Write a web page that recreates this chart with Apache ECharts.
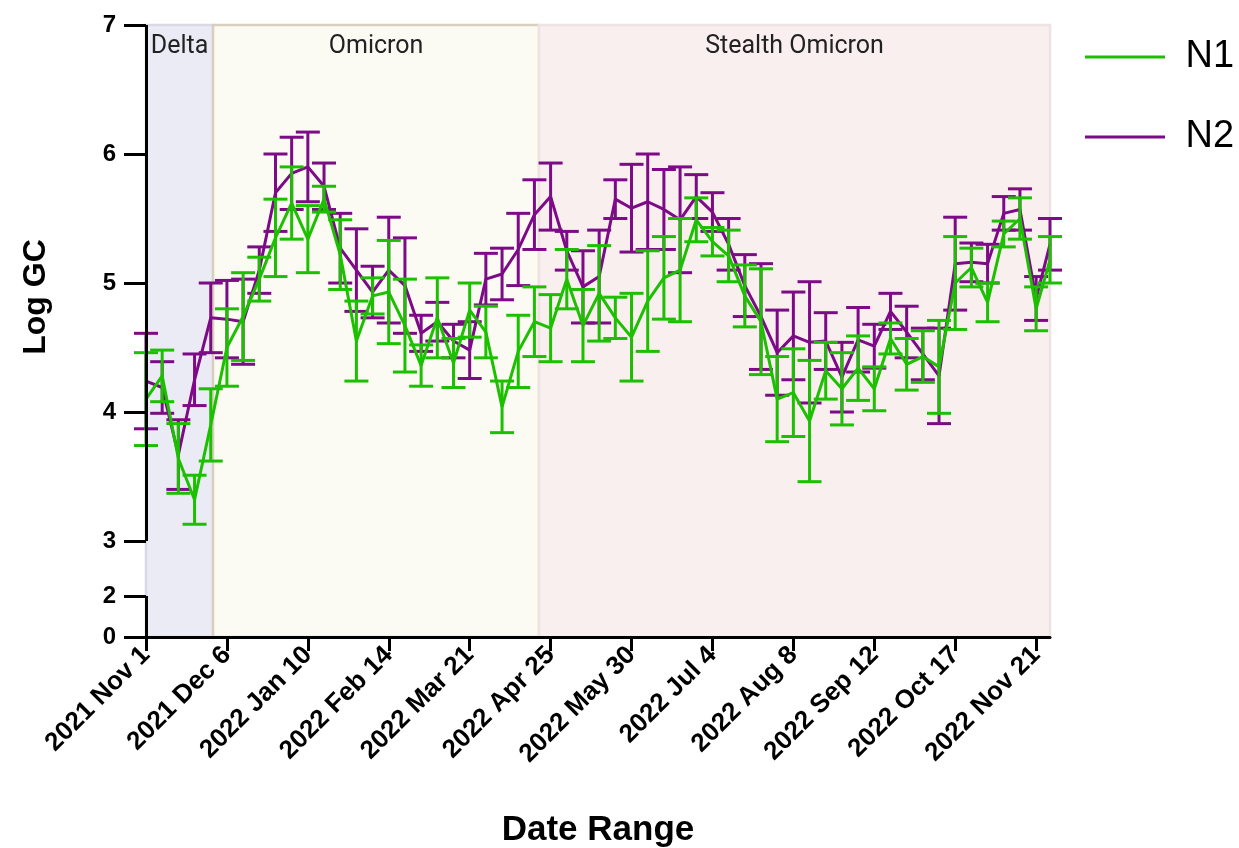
<!DOCTYPE html>
<html><head><meta charset="utf-8">
<script src="https://cdn.jsdelivr.net/npm/echarts@6/dist/echarts.min.js"></script>
<style>html,body{margin:0;padding:0;background:#fff}#c{width:1239px;height:848px}</style>
</head><body><div id="c"></div>
<script>
// ---------- data ----------
const dates = ['2021-11-01','2021-11-08','2021-11-15','2021-11-22','2021-11-29','2021-12-06','2021-12-13','2021-12-20','2021-12-27',
'2022-01-03','2022-01-10','2022-01-17','2022-01-24','2022-01-31','2022-02-07','2022-02-14','2022-02-21','2022-02-28',
'2022-03-07','2022-03-14','2022-03-21','2022-03-28','2022-04-04','2022-04-11','2022-04-18','2022-04-25','2022-05-02',
'2022-05-09','2022-05-16','2022-05-23','2022-05-30','2022-06-06','2022-06-13','2022-06-20','2022-06-27','2022-07-04',
'2022-07-11','2022-07-18','2022-07-25','2022-08-01','2022-08-08','2022-08-15','2022-08-22','2022-08-29','2022-09-05',
'2022-09-12','2022-09-19','2022-09-26','2022-10-03','2022-10-10','2022-10-17','2022-10-24','2022-10-31','2022-11-07',
'2022-11-14','2022-11-21','2022-11-27'];
const n1Mean = [4.10,4.28,3.64,3.32,3.90,4.50,4.74,5.03,5.35,5.62,5.34,5.65,5.22,4.55,4.90,4.93,4.67,4.36,4.73,4.38,
4.79,4.62,4.04,4.47,4.70,4.65,5.03,4.67,4.92,4.73,4.58,4.86,5.04,5.10,5.49,5.32,5.21,4.90,4.70,4.10,
4.15,3.93,4.32,4.18,4.34,4.18,4.57,4.37,4.43,4.35,5.00,5.12,4.85,5.38,5.50,4.80,5.18];
const n1Err = [0.36,0.20,0.27,0.19,0.28,0.30,0.34,0.17,0.30,0.28,0.26,0.10,0.27,0.31,0.14,0.40,0.36,0.16,0.31,0.19,
0.21,0.20,0.20,0.28,0.27,0.26,0.23,0.28,0.37,0.16,0.34,0.39,0.32,0.40,0.17,0.11,0.20,0.24,0.41,0.33,
0.34,0.47,0.22,0.28,0.25,0.17,0.12,0.20,0.20,0.36,0.36,0.15,0.15,0.10,0.16,0.17,0.18];
const n2Mean = [4.24,4.19,3.67,4.25,4.73,4.72,4.70,5.10,5.70,5.85,5.90,5.75,5.27,5.10,4.93,5.10,4.98,4.61,4.70,4.55,
4.48,5.03,5.07,5.26,5.53,5.67,5.25,4.97,5.05,5.65,5.58,5.63,5.57,5.49,5.67,5.55,5.30,4.98,4.74,4.46,
4.59,4.54,4.55,4.27,4.56,4.51,4.78,4.62,4.45,4.28,5.15,5.16,5.15,5.54,5.57,4.88,5.30];
const n2Err = [0.37,0.20,0.27,0.20,0.27,0.30,0.33,0.18,0.30,0.28,0.27,0.18,0.27,0.32,0.20,0.41,0.37,0.14,0.15,0.13,
0.22,0.20,0.20,0.28,0.27,0.26,0.15,0.28,0.36,0.15,0.34,0.37,0.31,0.41,0.17,0.15,0.20,0.24,0.41,0.33,
0.34,0.47,0.22,0.27,0.25,0.17,0.14,0.20,0.20,0.37,0.36,0.15,0.15,0.13,0.16,0.17,0.20];
const xTickDates = ['2021-11-01','2021-12-06','2022-01-10','2022-02-14','2022-03-21','2022-04-25','2022-05-30',
'2022-07-04','2022-08-08','2022-09-12','2022-10-17','2022-11-21'];
const yTickValues = [0,2,3,4,5,6,7];
const bandNames = ['Delta','Omicron','Stealth Omicron'];
const bandStarts = ['2021-11-01','2021-11-30','2022-04-20'];
const bandEnds = ['2021-11-30','2022-04-20','2022-11-27'];
const seriesNames = ['N1','N2'];

// ---------- helpers ----------
const MONTHS = ['Jan','Feb','Mar','Apr','May','Jun','Jul','Aug','Sep','Oct','Nov','Dec'];
const day0 = Date.UTC(2021,10,1);
function toDay(s){ const p=s.split('-').map(Number); return (Date.UTC(p[0],p[1]-1,p[2])-day0)/86400000; }
function dayLabel(v){ const d=new Date(day0+Math.round(v)*86400000); return d.getUTCFullYear()+' '+MONTHS[d.getUTCMonth()]+' '+d.getUTCDate(); }
// segmented y axis: 3..7 linear; 2..3 and 0..2 compressed
const DISP2 = 2.574, DISP0 = 2.256;
function yDisp(v){ if(v>=3) return v; if(v>=2) return DISP2+(v-2)*(3-DISP2); return DISP0+v/2*(DISP2-DISP0); }
const yTickDisp = yTickValues.map(yDisp);
function yLabel(d){ let best=0,bd=1e9; yTickDisp.forEach((t,i)=>{const e=Math.abs(t-d); if(e<bd){bd=e;best=i;}}); return String(yTickValues[best]); }

const days = dates.map(toDay);
const xMax = toDay(bandEnds[bandEnds.length-1]);
const GREEN = '#1CC000', PURPLE = '#7D0A86';
const FONT = 'Liberation Sans';

function errSeries(name, means, errs, color, z){
  return {
    type:'custom', name:name, z:z, silent:true,
    data: days.map((d,i)=>[d, yDisp(means[i]-errs[i]), yDisp(means[i]+errs[i])]),
    encode:{x:0,y:[1,2]},
    renderItem:function(params, api){
      const x=api.value(0);
      const lo=api.coord([x,api.value(1)]), hi=api.coord([x,api.value(2)]);
      const hw=12, st={stroke:color,lineWidth:3,fill:null};
      return {type:'group',children:[
        {type:'line',shape:{x1:lo[0],y1:lo[1],x2:hi[0],y2:hi[1]},style:st},
        {type:'line',shape:{x1:lo[0]-hw,y1:lo[1],x2:lo[0]+hw,y2:lo[1]},style:st},
        {type:'line',shape:{x1:hi[0]-hw,y1:hi[1],x2:hi[0]+hw,y2:hi[1]},style:st}
      ]};
    }
  };
}

const bandColors = ['#EBEBF6','#FBFBF3','#F9EFEF'];
const bandBorders = ['#DADAE4','#D9CFBE','#EFE2E2'];

const chart = echarts.init(document.getElementById('c'), null, {renderer:'canvas'});
chart.setOption({
  animation:false,
  backgroundColor:'#fff',
  grid:{left:146,right:189,top:25,bottom:211,containLabel:false,outerBoundsMode:'none'},
  legend:{
    data:seriesNames, orient:'vertical', left:1085, top:37, padding:0,
    itemWidth:81, itemHeight:3, itemGap:40,
    icon:'path://M0,0 L80,0 L80,3 L0,3 Z',
    textStyle:{fontFamily:FONT,fontSize:38,color:'#000',lineHeight:40,padding:[0,0,0,15]}
  },
  xAxis:{
    type:'value', min:0, max:xMax, z:10,
    name:'Date Range', nameLocation:'middle', nameGap:176,
    nameTextStyle:{fontFamily:FONT,fontSize:35,fontWeight:'bold',color:'#000'},
    axisLine:{show:true,lineStyle:{color:'#000',width:3}},
    axisTick:{show:true,length:14,lineStyle:{color:'#000',width:3},customValues:xTickDates.map(toDay)},
    axisLabel:{show:true,rotate:45,margin:14,fontFamily:FONT,fontSize:26,fontWeight:'bold',color:'#000',
      customValues:xTickDates.map(toDay),formatter:dayLabel},
    splitLine:{show:false}
  },
  yAxis:{
    type:'value', min:DISP0, max:7, z:10,
    axisLine:{show:false},
    axisTick:{show:true,length:22,lineStyle:{color:'#000',width:3},customValues:yTickDisp},
    axisLabel:{show:true,margin:30,fontFamily:FONT,fontSize:24,fontWeight:'bold',color:'#000',
      customValues:yTickDisp,formatter:yLabel},
    splitLine:{show:false}
  },
  graphic:[{type:'text',x:36,y:297,rotation:Math.PI/2,
    style:{text:'Log GC',font:'bold 32px "Liberation Sans"',fill:'#000',align:'center',verticalAlign:'middle'}}],
  series:[
    {
      type:'line', name:'N2', z:1, symbol:'none',
      data: days.map((d,i)=>[d, yDisp(n2Mean[i])]),
      lineStyle:{color:PURPLE,width:3}, itemStyle:{color:PURPLE},
      markArea:{
        silent:true,
        data: bandNames.map((nm,i)=>[
          {name:nm, xAxis:toDay(bandStarts[i]), yAxis:DISP0,
           itemStyle:{color:bandColors[i],borderColor:bandBorders[i],borderWidth:2.5},
           label:{show:true,position:'insideTop',distance:10,fontFamily:'Roboto',fontSize:25,color:'#222'}},
          {xAxis:toDay(bandEnds[i]), yAxis:7}
        ])
      }
    },
    errSeries('N2 err', n2Mean, n2Err, PURPLE, 2),
    errSeries('N1 err', n1Mean, n1Err, GREEN, 3),
    {
      type:'line', name:'N1', z:4, symbol:'none',
      data: days.map((d,i)=>[d, yDisp(n1Mean[i])]),
      lineStyle:{color:GREEN,width:3}, itemStyle:{color:GREEN},
      markLine:{
        silent:true, symbol:['none','none'], label:{show:false},
        lineStyle:{color:'#000',width:3,type:'solid'},
        data:[
          [{coord:[0,yDisp(3)]},{coord:[0,yDisp(7)]}],
          [{coord:[0,yDisp(0)]},{coord:[0,yDisp(2)]}]
        ]
      }
    }
  ]
});
</script></body></html>
